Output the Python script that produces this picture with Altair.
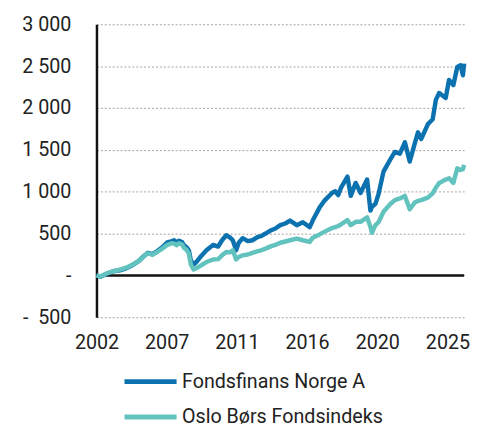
import altair as alt
import pandas as pd

years = [2002.50, 2002.75, 2003.10, 2003.57, 2004.00, 2004.40, 2004.83, 2005.20, 2005.50, 2005.78,
         2006.09, 2006.40, 2006.72, 2007.04, 2007.35, 2007.48, 2007.65, 2007.79, 2007.98, 2008.11,
         2008.30, 2008.42, 2008.55, 2008.72, 2008.90, 2009.20, 2009.55, 2009.98, 2010.30, 2010.55,
         2010.82, 2011.05, 2011.24, 2011.45, 2011.62, 2011.87, 2012.20, 2012.50, 2012.85, 2013.05,
         2013.34, 2013.70, 2013.97, 2014.28, 2014.60, 2014.91, 2015.34, 2015.73, 2016.17, 2016.36,
         2016.80, 2017.10, 2017.60, 2017.80, 2018.00, 2018.17, 2018.59, 2018.80, 2019.12, 2019.43,
         2019.85, 2020.06, 2020.16, 2020.38, 2020.58, 2020.90, 2021.32, 2021.63, 2021.95, 2022.27,
         2022.58, 2022.90, 2023.11, 2023.32, 2023.74, 2024.05, 2024.26, 2024.47, 2024.89, 2025.10,
         2025.38, 2025.63, 2025.84, 2025.99, 2026.07]

fondsfinans = [0, -15, 15, 50, 60, 85, 125, 170, 225, 270,
               255, 290, 335, 395, 410, 420, 390, 415, 400, 360,
               330, 300, 180, 130, 160, 230, 300, 365, 345, 420,
               480, 455, 420, 300, 390, 445, 410, 420, 460, 470,
               500, 540, 560, 600, 620, 655, 600, 635, 577, 655,
               810, 890, 985, 1005, 960, 1045, 1180, 950, 1105, 985,
               1145, 775, 820, 855, 970, 1240, 1380, 1475, 1455, 1590,
               1360, 1575, 1710, 1630, 1805, 1865, 2100, 2180, 2120, 2335,
               2275, 2490, 2510, 2390, 2530]

fondsindeks = [0, -12, 20, 50, 68, 92, 130, 170, 220, 265,
               245, 280, 320, 365, 385, 380, 360, 385, 370, 330,
               300, 260, 130, 70, 85, 120, 160, 190, 195, 240,
               280, 275, 300, 190, 220, 240, 250, 270, 290, 300,
               320, 350, 365, 390, 405, 420, 440, 420, 400, 450,
               490, 520, 565, 577, 590, 610, 660, 600, 640, 640,
               695, 580, 510, 600, 635, 760, 850, 900, 920, 950,
               790, 870, 890, 900, 930, 980, 1050, 1105, 1145, 1160,
               1105, 1280, 1260, 1270, 1320]

series_names = ["Fondsfinans Norge A", "Oslo Børs Fondsindeks"]
series_colors = ["#0B72AF", "#62C3BE"]
x_ticks = [2002.5, 2007.0, 2011.5, 2016.0, 2020.5, 2025.0]
y_ticks = [-500, 0, 500, 1000, 1500, 2000, 2500, 3000]

df = pd.concat([
    pd.DataFrame({"year": years, "value": fondsfinans, "series": series_names[0]}),
    pd.DataFrame({"year": years, "value": fondsindeks, "series": series_names[1]}),
], ignore_index=True)

FONT = "Roboto"

y_label = ("datum.value == 0 ? '-\u00a0\u00a0\u00a0' : (datum.value < 0 ? '-\u00a0\u00a0' + "
           "replace(format(abs(datum.value), ','), ',', ' ') : replace(format(datum.value, ','), ',', ' '))")

x_enc = alt.X("year:Q",
              scale=alt.Scale(domain=[2002.5, 2026.07], nice=False, zero=False),
              axis=alt.Axis(values=x_ticks, labelExpr="floor(datum.value)", title=None,
                            grid=False, domain=False, ticks=False, labelPadding=16,
                            labelFontSize=20, labelFont=FONT, labelColor="#222222",
                            labelFlush=False))
y_enc = alt.Y("value:Q",
              scale=alt.Scale(domain=[-500, 3000], nice=False),
              axis=alt.Axis(values=y_ticks, labelExpr=y_label, title=None,
                            grid=True, gridDash=[2, 2], gridColor="#A89E9E", gridWidth=1,
                            domain=True, domainColor="#111111", domainWidth=2.5,
                            ticks=False, labelPadding=26,
                            labelFontSize=20, labelFont=FONT, labelColor="#222222"))

lines = alt.Chart(df).mark_line(strokeWidth=4.5, strokeJoin="round").encode(
    x=x_enc,
    y=y_enc,
    color=alt.Color("series:N",
                    scale=alt.Scale(domain=series_names, range=series_colors),
                    legend=alt.Legend(title=None, orient="none", legendX=42.5, legendY=351,
                                      direction="vertical", symbolType="M-2.65,0H2.65",
                                      symbolSize=400, symbolStrokeWidth=5,
                                      labelFontSize=20, labelFont=FONT, labelColor="#222222",
                                      labelLimit=400, labelOffset=19.5, rowPadding=13,
                                      padding=0)),
    order=alt.Order("year:Q"),
)

zero = alt.Chart(pd.DataFrame({"y": [0]})).mark_rule(color="#111111", strokeWidth=2.5).encode(
    y=alt.Y("y:Q", scale=alt.Scale(domain=[-500, 3000], nice=False))
)

chart = alt.layer(zero, lines).properties(
    width=374, height=298,
    autosize=alt.AutoSizeParams(type="none"),
    padding={"left": 90, "top": 13, "right": 9, "bottom": 105},
).configure_view(stroke=None)

chart.save("out.html", embed_options={"renderer": "svg", "actions": False})
